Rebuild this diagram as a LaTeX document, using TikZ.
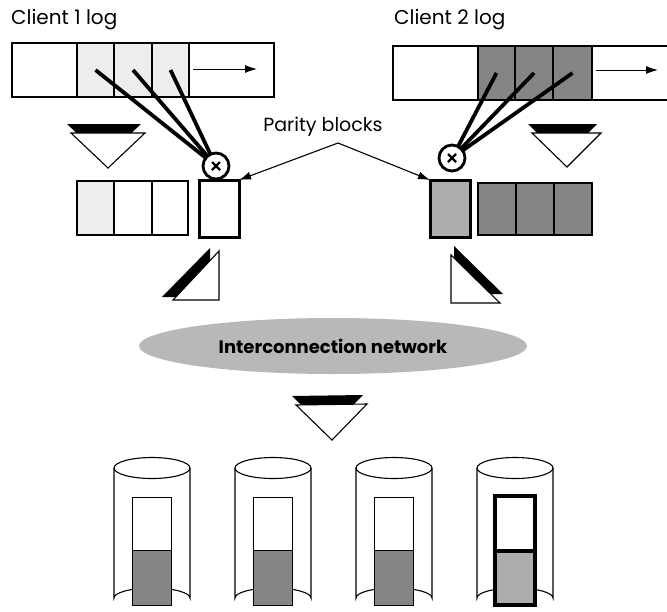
\documentclass[tikz,border=0pt]{standalone}
\usepackage{fontspec}
\setmainfont{Poppins}
\usetikzlibrary{arrows.meta,shapes.geometric}
\definecolor{lightstip}{gray}{0.93}
\definecolor{darkstip}{gray}{0.52}
\definecolor{midstip}{gray}{0.68}
\definecolor{netgray}{gray}{0.72}
\begin{document}
\begin{tikzpicture}[x=1pt,y=-1pt,line join=miter,
  cellbox/.style={draw,line width=1.1pt,inner sep=0,outer sep=0,anchor=north west,minimum height=54pt},
  parbox/.style={draw,line width=3pt,inner sep=0,outer sep=0,anchor=north west,minimum width=40pt,minimum height=57pt},
  spoke/.style={line width=3.8pt},
  xorc/.style={circle,draw,line width=2.8pt,fill=white,minimum size=26pt,inner sep=0,outer sep=0},
  xmark/.style={line width=2.4pt},
  logarrow/.style={line width=1pt,-{Latex[length=12pt,width=8pt]}},
  pararrow/.style={line width=1.1pt,-{Latex[length=12pt,width=8pt]}},
  tri/.style={draw,line width=1.1pt,fill=white},
  trishadow/.style={fill=black},
  cyl/.style={draw,line width=1.1pt},
  lbl/.style={font=\fontsize{20}{22}\selectfont,inner sep=0}
]
\useasboundingbox (0,0) rectangle (667,611);

% ---------- labels ----------
\node[lbl,anchor=west] (l1) at (11,20) {Client 1 log};
\node[lbl,anchor=west] (l2) at (394,20) {Client 2 log};
\node[lbl,font=\fontsize{19}{21}\selectfont] (pt) at (323,127) {Parity blocks};

% ---------- client 1 log ----------
\node[cellbox,minimum width=65pt] (c1a) at (12,43) {};
\node[cellbox,minimum width=37pt,fill=lightstip] (c1b) at (77,43) {};
\node[cellbox,minimum width=38pt,fill=lightstip] (c1c) at (114,43) {};
\node[cellbox,minimum width=37pt,fill=lightstip] (c1d) at (152,43) {};
\node[cellbox,minimum width=85pt] (c1e) at (189,43) {};
\coordinate (a1s) at (193,69);
\coordinate (a1e) at (257,69);
\draw[logarrow] (a1s) -- (a1e);

% ---------- client 2 log ----------
\node[cellbox,minimum width=85pt] (c2a) at (393,46) {};
\node[cellbox,minimum width=37pt,fill=darkstip] (c2b) at (478,46) {};
\node[cellbox,minimum width=38pt,fill=darkstip] (c2c) at (515,46) {};
\node[cellbox,minimum width=39pt,fill=darkstip] (c2d) at (553,46) {};
\coordinate (c2top) at (667,46);
\coordinate (c2bot) at (667,100);
\draw[line width=1.1pt] (c2d.north east) -- (c2top);
\draw[line width=1.1pt] (c2d.south east) -- (c2bot);
\coordinate (a2s) at (596,70);
\coordinate (a2e) at (658,70);
\draw[logarrow] (a2s) -- (a2e);

% ---------- lower blocks ----------
\node[cellbox,minimum width=37pt,fill=lightstip] (l1a) at (77,181) {};
\node[cellbox,minimum width=38pt] (l1b) at (114,181) {};
\node[cellbox,minimum width=36pt] (l1c) at (152,181) {};
\node[parbox,fill=white] (p1) at (199,180) {};

\node[parbox,fill=midstip] (p2) at (430,180) {};
\node[cellbox,minimum width=38pt,minimum height=52pt,fill=darkstip] (r2a) at (478,183) {};
\node[cellbox,minimum width=38pt,minimum height=52pt,fill=darkstip] (r2b) at (516,183) {};
\node[cellbox,minimum width=38pt,minimum height=52pt,fill=darkstip] (r2c) at (554,183) {};

% ---------- XOR circles and spokes ----------
\node[xorc] (x1) at (216,166) {};
\node[xorc] (x2) at (452,158) {};
\draw[spoke] (c1b.center) -- (x1);
\draw[spoke] (c1c.center) -- (x1);
\draw[spoke] (c1d.center) -- (x1);
\draw[spoke] (c2b.center) -- (x2);
\draw[spoke] (c2c.center) -- (x2);
\draw[spoke] (c2d.center) -- (x2);
\foreach \n in {x1,x2}{
  \draw[xmark] ([shift={(-4,-4)}]\n.center) -- ([shift={(4,4)}]\n.center);
  \draw[xmark] ([shift={(-4,4)}]\n.center) -- ([shift={(4,-4)}]\n.center);
}

% ---------- parity arrows ----------
\coordinate (pk) at (338,143);
\draw[pararrow] (pk) -- (p1.north east);
\draw[pararrow] (pk) -- (p2.north west);

% ---------- flow triangles ----------
% top left
\fill[trishadow] (67,124) -- (141,124) -- (104,159) -- cycle;
\draw[tri] (71,133) -- (145,133) -- (108,168) -- cycle;
% top right
\fill[trishadow] (528,124) -- (597,124) -- (563,158) -- cycle;
\draw[tri] (532,133) -- (601,133) -- (567,167) -- cycle;
% slanted left
\fill[trishadow] (162,297) -- (210,297) -- (210,248) -- cycle;
\draw[tri] (173,300) -- (219,300) -- (219,251) -- cycle;
% slanted right
\fill[trishadow] (454,246) -- (454,294) -- (503,294) -- cycle;
\draw[tri] (451,255) -- (451,303) -- (500,303) -- cycle;
% bottom
\fill[trishadow] (292,396) -- (363,395) -- (328,431) -- cycle;
\draw[tri] (296,405) -- (367,404) -- (332,440) -- cycle;

% ---------- interconnection network ----------
\node[ellipse,fill=netgray,minimum width=388pt,minimum height=56pt,inner sep=0,
      font=\fontsize{18}{20}\selectfont\bfseries] (net) at (333,346) {Interconnection network};

% ---------- disks ----------
\foreach \i/\cx in {1/152,2/273,3/394,4/515}{
  \draw[cyl] (\cx-38,468) -- (\cx-38,598)
     arc[start angle=180,end angle=360,x radius=38,y radius=10] -- (\cx+38,468);
  \draw[cyl] (\cx,468) ellipse[x radius=38,y radius=10.5];
}
\foreach \i/\cx in {1/152,2/273,3/394}{
  \node[draw,line width=1.1pt,minimum width=39pt,minimum height=53pt,inner sep=0,anchor=north] (dw\i) at (\cx,497) {};
  \node[draw,line width=1.1pt,fill=darkstip,minimum width=39pt,minimum height=55pt,inner sep=0,anchor=north] (dg\i) at (\cx,550) {};
}
\node[draw,line width=3.5pt,minimum width=40pt,minimum height=55pt,inner sep=0,anchor=north] (dw4) at (515,494) {};
\node[draw,line width=3.5pt,fill=midstip,minimum width=40pt,minimum height=54pt,inner sep=0,anchor=north] (dg4) at (515,549) {};
\end{tikzpicture}
\end{document}
